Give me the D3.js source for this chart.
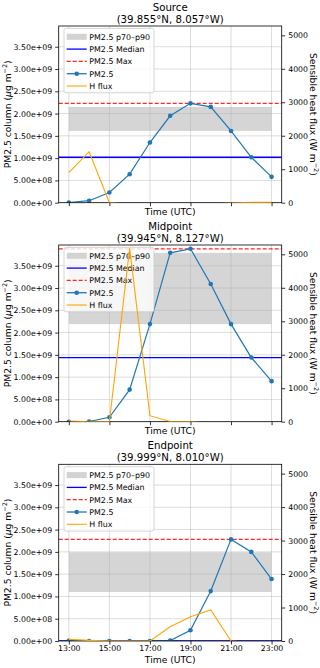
<!DOCTYPE html>
<html><head><meta charset="utf-8">
<script src="https://cdn.jsdelivr.net/npm/d3@7"></script>
<style>body{margin:0;background:#fff}svg{display:block;font-family:"DejaVu Sans",sans-serif}</style>
</head><body><svg id="c" width="320" height="668"></svg>
<script>
const hours = [13,14,15,16,17,18,19,20,21,22,23];
const xTickValues = [13,15,17,19,21,23];
const xTickLabels = ["13:00","15:00","17:00","19:00","21:00","23:00"];
const leftTicks = [0,5e8,1e9,1.5e9,2e9,2.5e9,3e9,3.5e9];
const rightTicks = [0,1000,2000,3000,4000,5000];
const panelNames = ["Source","Midpoint","Endpoint"];
const panelCoords = ["(39.855°N, 8.057°W)","(39.945°N, 8.127°W)","(39.999°N, 8.010°W)"];
const pmSource   = [0.005e9,0.045e9,0.23e9,0.64e9,1.35e9,1.95e9,2.23e9,2.15e9,1.61e9,1.02e9,0.58e9];
const pmMidpoint = [0.0,0.005e9,0.10e9,0.72e9,2.19e9,3.79e9,3.88e9,3.09e9,2.19e9,1.44e9,0.91e9];
const pmEndpoint = [0.003e9,0.0,0.0,0.0,0.0,0.01e9,0.24e9,1.12e9,2.28e9,2.0e9,1.39e9];
const hSource   = [896,1524,0,-50,-50,-50,-50,-50,-10,10,10];
const hMidpoint = [20,0,0,5185,180,8,0,-50,-50,-50,-50];
const hEndpoint = [50,20,0,0,0,427,726,926,0,-50,-50];
const pmMedian = [1.02e9,1.44e9,0.0];
const pmMax    = [2.23e9,3.88e9,2.28e9];
const pmP70    = [1.61e9,2.19e9,1.10e9];
const pmP90    = [2.15e9,3.79e9,1.99e9];
const legendLabels = ["PM2.5 p70–p90","PM2.5 Median","PM2.5 Max","PM2.5","H flux"];

const pmSeries = [pmSource,pmMidpoint,pmEndpoint];
const hSeries = [hSource,hMidpoint,hEndpoint];

const svg = d3.select("#c");
const L = 58.7, R = 281.7, PH = 176.7;
const tops = [26,245,464.3];
const C = {pm:"#1f77b4",med:"#0000ff",max:"#ff0000",h:"#ffa500",band:"#d3d3d3",grid:"#b0b0b0"};
const x = d3.scaleLinear().domain([12.5,23.5]).range([L,R]);
const yMaxL = d3.max(pmMax)*1.022;
const yMaxR = d3.max(hSeries.flat())*1.018;

function sci(v){
  if(v===0) return "0.00e+00";
  const e = Math.floor(Math.log10(v)); const m = v/Math.pow(10,e);
  return m.toFixed(2)+"e+"+String(e).padStart(2,"0");
}

panelNames.forEach((name,i)=>{
  const top = tops[i], bot = top+PH;
  const yL = d3.scaleLinear().domain([0,yMaxL]).range([bot,top]);
  const yR = d3.scaleLinear().domain([0,yMaxR]).range([bot,top]);
  const g = svg.append("g");
  const cid = "clip"+i;
  g.append("clipPath").attr("id",cid).append("rect").attr("x",L).attr("y",top).attr("width",R-L).attr("height",PH);
  const pa = g.append("g").attr("clip-path",`url(#${cid})`);
  // band
  pa.append("rect").attr("x",x(hours[0])).attr("width",x(hours[hours.length-1])-x(hours[0]))
    .attr("y",yL(pmP90[i])).attr("height",yL(pmP70[i])-yL(pmP90[i])).attr("fill",C.band).attr("opacity",0.95);
  // grid
  leftTicks.forEach(t=>pa.append("line").attr("x1",L).attr("x2",R).attr("y1",yL(t)).attr("y2",yL(t))
    .attr("stroke",C.grid).attr("stroke-width",0.8).attr("opacity",0.55));
  xTickValues.forEach(t=>pa.append("line").attr("x1",x(t)).attr("x2",x(t)).attr("y1",top).attr("y2",bot)
    .attr("stroke",C.grid).attr("stroke-width",0.8).attr("opacity",0.55));
  // frame
  g.append("rect").attr("x",L).attr("y",top).attr("width",R-L).attr("height",PH).attr("fill","none").attr("stroke","#000").attr("stroke-width",0.8);
  // median & max
  pa.append("line").attr("x1",L).attr("x2",R).attr("y1",yL(pmMedian[i])).attr("y2",yL(pmMedian[i]))
    .attr("stroke",C.med).attr("stroke-width",1.3);
  pa.append("line").attr("x1",L).attr("x2",R).attr("y1",yL(pmMax[i])).attr("y2",yL(pmMax[i]))
    .attr("stroke",C.max).attr("stroke-width",1.3).attr("stroke-dasharray","4,2").attr("opacity",0.85);
  // PM line
  const pts = hours.map((h,k)=>[h,pmSeries[i][k]]);
  pa.append("path").attr("d",d3.line().x(d=>x(d[0])).y(d=>yL(d[1]))(pts)).attr("fill","none").attr("stroke",C.pm).attr("stroke-width",1.2);
  pa.selectAll(null).data(pts).enter().append("circle").attr("cx",d=>x(d[0])).attr("cy",d=>yL(d[1])).attr("r",2.3).attr("fill",C.pm);
  // legend
  const lx = 64, ly = top+2.4, lw = 90, lh = 64.4;
  const lg = g.append("g").attr("font-size",7.9);
  lg.append("rect").attr("x",lx).attr("y",ly).attr("width",lw).attr("height",lh).attr("rx",2)
    .attr("fill","#fff").attr("fill-opacity",0.8).attr("stroke","#cccccc").attr("stroke-width",0.8);
  legendLabels.forEach((lab,k)=>{
    const cy = ly+8.4+k*12.3, hx0 = 66.7, hx1 = 86.7;
    if(k===0) lg.append("rect").attr("x",hx0).attr("y",cy-3).attr("width",hx1-hx0).attr("height",6).attr("fill",C.band);
    else {
      const col = [null,C.med,C.max,C.pm,C.h][k];
      const ln = lg.append("line").attr("x1",hx0).attr("x2",hx1).attr("y1",cy).attr("y2",cy).attr("stroke",col).attr("stroke-width",k===4?1.1:1.3);
      if(k===2) ln.attr("stroke-dasharray","4,2").attr("opacity",0.85);
      if(k===3) lg.append("circle").attr("cx",(hx0+hx1)/2).attr("cy",cy).attr("r",2.3).attr("fill",C.pm);
    }
    lg.append("text").attr("x",89.3).attr("y",cy).attr("dy","0.36em").text(lab);
  });
  // H flux on twin axis (drawn above)
  const pb = g.append("g").attr("clip-path",`url(#${cid})`);
  const hp = hours.map((h,k)=>[h,hSeries[i][k]]);
  pb.append("path").attr("d",d3.line().x(d=>x(d[0])).y(d=>yR(d[1]))(hp)).attr("fill","none").attr("stroke",C.h).attr("stroke-width",1.1);
  // axes
  const ax = g.append("g").attr("transform",`translate(${L},0)`)
    .call(d3.axisLeft(yL).tickValues(leftTicks).tickFormat(sci).tickSize(3.5).tickPadding(3));
  const ar = g.append("g").attr("transform",`translate(${R},0)`)
    .call(d3.axisRight(yR).tickValues(rightTicks).tickFormat(d=>String(d)).tickSize(3.5).tickPadding(3));
  const ab = g.append("g").attr("transform",`translate(0,${bot})`)
    .call(d3.axisBottom(x).tickValues(xTickValues).tickFormat((d,k)=>i===2?xTickLabels[k]:"").tickSize(3.5).tickPadding(1.2));
  [ax,ar,ab].forEach(a=>{
    a.select(".domain").remove();
    a.selectAll("line").attr("stroke","#000").attr("stroke-width",0.8);
    a.selectAll("text").attr("font-family","DejaVu Sans").attr("font-size",7.8).attr("fill","#000");
  });
  // titles
  svg.append("text").attr("x",(L+R)/2).attr("y",top-15.5).attr("text-anchor","middle").attr("font-size",10.2).text(name);
  svg.append("text").attr("x",(L+R)/2).attr("y",top-3.4).attr("text-anchor","middle").attr("font-size",10.2).text(panelCoords[i]);
  // x label
  svg.append("text").attr("x",(L+R)/2).attr("y",i===2?bot+21.6:bot+12).attr("text-anchor","middle").attr("font-size",9.2).text("Time (UTC)");
  // y labels
  const yl = svg.append("text").attr("transform",`translate(10.7,${(top+bot)/2}) rotate(-90)`).attr("text-anchor","middle").attr("font-size",9.2);
  yl.append("tspan").text("PM2.5 column (");
  yl.append("tspan").attr("font-style","italic").text("μ");
  yl.append("tspan").text("g m");
  yl.append("tspan").attr("font-size",6.4).attr("baseline-shift","super").text("−2");
  yl.append("tspan").text(")");
  const yr = svg.append("text").attr("transform",`translate(310.3,${(top+bot)/2}) rotate(90)`).attr("text-anchor","middle").attr("font-size",9.2);
  yr.append("tspan").text("Sensible heat flux (W m");
  yr.append("tspan").attr("font-size",6.4).attr("baseline-shift","super").text("−2");
  yr.append("tspan").text(")");
});
</script></body></html>
